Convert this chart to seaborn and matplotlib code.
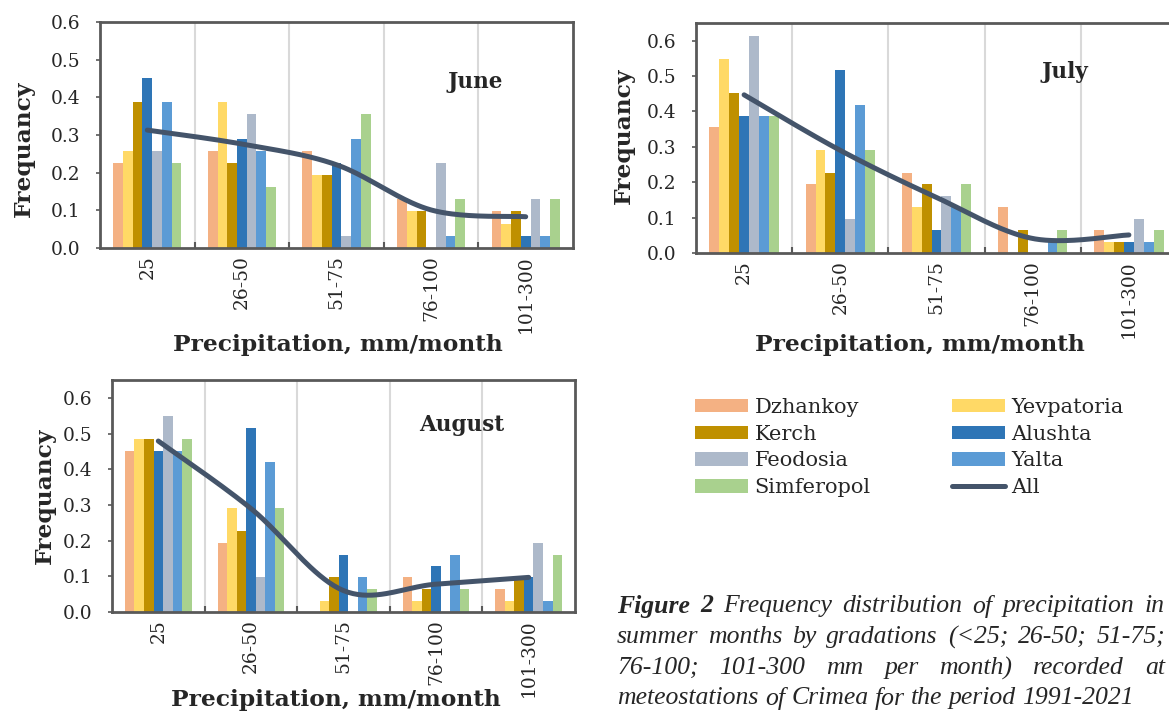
import numpy as np
import pandas as pd
import seaborn as sns
import matplotlib
matplotlib.use("Agg")
import matplotlib.pyplot as plt
from matplotlib.patches import Patch
from matplotlib.lines import Line2D

# ---------------- data ----------------
categories = ["25", "26-50", "51-75", "76-100", "101-300"]
stations = ["Dzhankoy", "Yevpatoria", "Kerch", "Alushta", "Feodosia", "Yalta", "Simferopol"]
station_colors = ["#F4B183", "#FFD966", "#BF9000", "#2E75B6", "#ADB9CA", "#5B9BD5", "#A9D18E"]
all_color = "#44546A"

# rows follow `stations`, columns follow `categories`
june_freq = [
    [0.226, 0.258, 0.258, 0.129, 0.097],
    [0.258, 0.387, 0.194, 0.097, 0.065],
    [0.387, 0.226, 0.194, 0.097, 0.097],
    [0.452, 0.290, 0.226, 0.000, 0.032],
    [0.258, 0.355, 0.032, 0.226, 0.129],
    [0.387, 0.258, 0.290, 0.032, 0.032],
    [0.226, 0.161, 0.355, 0.129, 0.129],
]
june_all = [0.313, 0.276, 0.221, 0.101, 0.083]

july_freq = [
    [0.355, 0.194, 0.226, 0.129, 0.065],
    [0.548, 0.290, 0.129, 0.000, 0.032],
    [0.452, 0.226, 0.194, 0.065, 0.032],
    [0.387, 0.516, 0.065, 0.000, 0.032],
    [0.613, 0.097, 0.161, 0.000, 0.097],
    [0.387, 0.419, 0.129, 0.032, 0.032],
    [0.387, 0.290, 0.194, 0.065, 0.065],
]
july_all = [0.447, 0.290, 0.157, 0.041, 0.051]

august_freq = [
    [0.452, 0.194, 0.000, 0.097, 0.065],
    [0.484, 0.290, 0.032, 0.032, 0.032],
    [0.484, 0.226, 0.097, 0.065, 0.097],
    [0.452, 0.516, 0.161, 0.129, 0.097],
    [0.548, 0.097, 0.000, 0.000, 0.194],
    [0.452, 0.419, 0.097, 0.161, 0.032],
    [0.484, 0.290, 0.065, 0.065, 0.161],
]
august_all = [0.479, 0.290, 0.060, 0.078, 0.097]

yticks = [0.0, 0.1, 0.2, 0.3, 0.4, 0.5, 0.6]

# ---------------- style ----------------
sns.set_style("white")
plt.rcParams["font.family"] = ["DejaVu Serif"]

W, H = 1169, 716
fig = plt.figure(figsize=(W / 100, H / 100), dpi=100)
fig.patch.set_facecolor("white")

SPINE = "#595959"
GRID = "#D9D9D9"


def px_rect(left, top, right, bottom):
    return [left / W, 1 - bottom / H, (right - left) / W, (bottom - top) / H]


def long_df(freq):
    rows = []
    for s, vals in zip(stations, freq):
        for c, v in zip(categories, vals):
            rows.append({"Precip": c, "Station": s, "Freq": v})
    return pd.DataFrame(rows)


def smooth_curve(xs, ys, n=40):
    pts = np.column_stack([xs, ys]).astype(float)
    P = np.vstack([pts[0], pts, pts[-1]])
    t = np.linspace(0, 1, n)[:, None]
    out = []
    for i in range(1, len(P) - 2):
        p0, p1, p2, p3 = P[i - 1], P[i], P[i + 1], P[i + 2]
        c1 = p1 + (p2 - p0) / 6.0
        c2 = p2 - (p3 - p1) / 6.0
        seg = (1 - t) ** 3 * p1 + 3 * (1 - t) ** 2 * t * c1 + 3 * (1 - t) * t ** 2 * c2 + t ** 3 * p2
        out.append(seg if i == 1 else seg[1:])
    return np.vstack(out)


def draw_panel(rect, freq, all_vals, ymax):
    ax = fig.add_axes(rect)
    df = long_df(freq)
    sns.barplot(data=df, x="Precip", y="Freq", hue="Station", order=categories,
                hue_order=stations, palette=station_colors, width=0.72,
                saturation=1, errorbar=None, legend=False, ax=ax, linewidth=0)
    curve = smooth_curve(np.arange(len(categories)), all_vals)
    ax.plot(curve[:, 0], curve[:, 1], color=all_color, lw=3.6,
            solid_capstyle="round", zorder=5)
    ax.set_xlim(-0.5, len(categories) - 0.5)
    ax.set_ylim(0, ymax)
    ax.set_yticks(yticks)
    ax.set_yticklabels([f"{v:.1f}" for v in yticks])
    ax.set_xticks(range(len(categories)))
    ax.set_xticklabels(categories, rotation=90)
    ax.set_xticks([i + 0.5 for i in range(len(categories) - 1)], minor=True)
    ax.grid(False)
    ax.grid(axis="x", which="minor", color=GRID, linewidth=1.5, zorder=0)
    ax.set_axisbelow(True)
    ax.tick_params(axis="x", which="major", length=0, pad=5, labelsize=13.4)
    ax.tick_params(axis="x", which="minor", direction="in", length=4,
                   width=1.5, color=SPINE, bottom=True)
    ax.tick_params(axis="y", which="major", direction="out", length=3,
                   width=1.2, color=SPINE, pad=11, labelsize=13.4, left=True)
    for sp in ax.spines.values():
        sp.set_visible(True)
        sp.set_color(SPINE)
        sp.set_linewidth(2)
    ax.set_xlabel("")
    ax.set_ylabel("")
    return ax


def ftext(x, y, s, **kw):
    return fig.text(x / W, 1 - y / H, s, **kw)


# panels (July plot area runs past the right edge, as in the reference crop)
ax_jun = draw_panel(px_rect(100, 22, 573, 248), june_freq, june_all, 0.6)
ax_jul = draw_panel(px_rect(696, 23, 1177, 253), july_freq, july_all, 0.65)
ax_aug = draw_panel(px_rect(112, 380, 575, 612), august_freq, august_all, 0.65)

lab_kw = dict(fontsize=16.8, fontweight="bold", ha="center", va="center")
title_kw = dict(fontsize=15.5, fontweight="bold", ha="center", va="center")
# y labels
ftext(24, 149, "Frequancy", rotation=90, **lab_kw)
ftext(624, 136, "Frequancy", rotation=90, **lab_kw)
ftext(45, 496, "Frequancy", rotation=90, **lab_kw)
# x labels
ftext(338, 345, "Precipitation, mm/month", **lab_kw)
ftext(920, 345, "Precipitation, mm/month", **lab_kw)
ftext(336, 700, "Precipitation, mm/month", **lab_kw)
# month titles
ftext(475, 82, "June", **title_kw)
ftext(1065, 72, "July", **title_kw)
ftext(462, 425, "August", **title_kw)

# legend (column-major order for ncol=2)
patches = [Patch(facecolor=c, edgecolor="none") for c in station_colors]
line_h = Line2D([0], [0], color=all_color, lw=3.6, solid_capstyle="round")
order = [0, 2, 4, 6, 1, 3, 5]
handles = [patches[i] for i in order] + [line_h]
labels = [stations[i] for i in order] + ["All"]
fig.legend(handles, labels, loc="upper left", bbox_to_anchor=(695 / W, 1 - 398 / H),
           ncol=2, frameon=False, fontsize=15, handlelength=2.55, handleheight=0.62,
           handletextpad=0.3, labelspacing=0.37, columnspacing=3.9,
           borderpad=0, borderaxespad=0)

# caption with justified lines
cap_size = 18.5
cap_kw = dict(family="Liberation Serif", fontstyle="italic", fontsize=cap_size, va="center")
caption_lines = [
    ([("Figure", "bold"), ("2", "bold"), ("Frequency", "normal"), ("distribution", "normal"),
      ("of", "normal"), ("precipitation", "normal"), ("in", "normal")], True, 606),
    ([(w, "normal") for w in "summer months by gradations (<25; 26-50; 51-75;".split()], True, 637),
    ([(w, "normal") for w in "76-100; 101-300 mm per month) recorded at".split()], True, 668),
    ([(w, "normal") for w in "meteostations of Crimea for the period 1991-2021".split()], False, 698),
]
x0c, x1c = 617, 1165
renderer = fig.canvas.get_renderer()
for words, justify, yc in caption_lines:
    objs = [ftext(0, yc, w, fontweight=wt, **cap_kw) for w, wt in words]
    widths = [o.get_window_extent(renderer).width for o in objs]
    if justify:
        gap = (x1c - x0c - sum(widths)) / (len(objs) - 1)
    else:
        gap = cap_size * 1.389 * 0.25
    x = x0c
    for o, wd in zip(objs, widths):
        o.set_x(x / W)
        x += wd + gap

fig.savefig("out.png", dpi=100)
